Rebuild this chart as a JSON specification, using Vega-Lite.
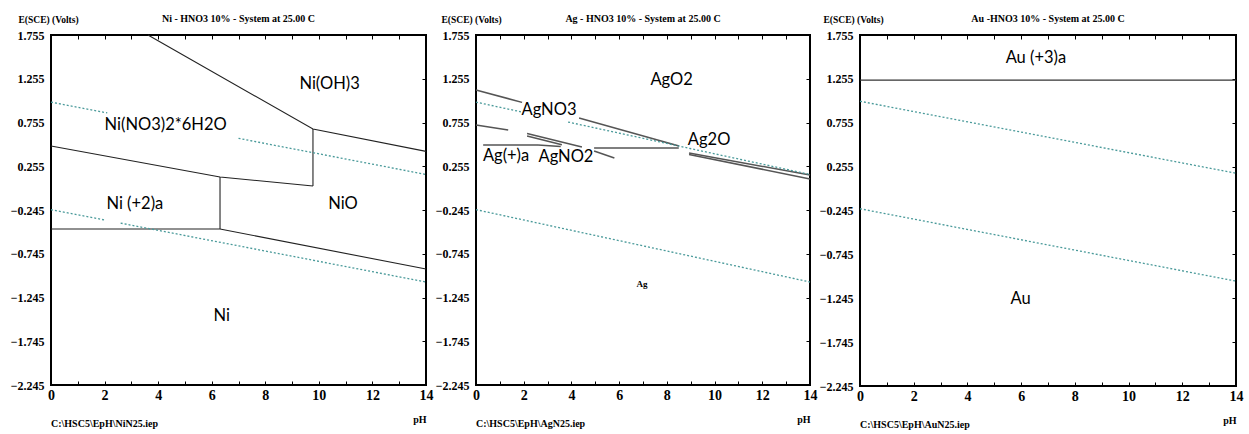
{
  "$schema": "https://vega.github.io/schema/vega-lite/v6.json",
  "background": "white",
  "padding": {"left": 9, "top": 13, "right": 6, "bottom": 2},
  "bounds": "flush",
  "spacing": 50,
  "config": {
    "view": {"stroke": "#000", "strokeWidth": 2},
    "axis": {"labelFont": "Liberation Serif", "labelFontWeight": "bold", "labelColor": "#000", "titleFont": "Liberation Serif", "titleFontWeight": "bold", "titleColor": "#000", "grid": false, "domain": false, "tickColor": "#000", "labelFlush": false, "labelOverlap": false},
    "title": {"font": "Liberation Serif", "fontWeight": "bold", "fontSize": 10, "offset": -10, "anchor": "middle", "color": "#000"},
    "text": {"font": "Lato", "fontSize": 16.5, "color": "#000"}
  },
  "datasets": {
    "ni_solid": [
      {"seg": "s1", "pH": 3.62, "E": 1.755}, {"seg": "s1", "pH": 9.78, "E": 0.681}, {"seg": "s1", "pH": 14, "E": 0.425},
      {"seg": "s2", "pH": 9.78, "E": 0.681}, {"seg": "s2", "pH": 9.78, "E": 0.03},
      {"seg": "s3", "pH": 0, "E": 0.486}, {"seg": "s3", "pH": 6.31, "E": 0.132}, {"seg": "s3", "pH": 9.78, "E": 0.03},
      {"seg": "s4", "pH": 6.31, "E": 0.132}, {"seg": "s4", "pH": 6.31, "E": -0.462},
      {"seg": "s5", "pH": 0, "E": -0.462}, {"seg": "s5", "pH": 6.31, "E": -0.462}, {"seg": "s5", "pH": 14, "E": -0.92}
    ],
    "ni_dot": [
      {"seg": "d1", "pH": 0, "E": 0.988}, {"seg": "d1", "pH": 2.1, "E": 0.864},
      {"seg": "d2", "pH": 7.0, "E": 0.574}, {"seg": "d2", "pH": 14, "E": 0.161},
      {"seg": "d3", "pH": 0, "E": -0.241}, {"seg": "d3", "pH": 2.0, "E": -0.359},
      {"seg": "d4", "pH": 2.6, "E": -0.395}, {"seg": "d4", "pH": 14, "E": -1.068}
    ],
    "ni_labels": [
      {"pH": 10.4, "E": 1.19, "label": "Ni(OH)3"},
      {"pH": 4.28, "E": 0.726, "label": "Ni(NO3)2*6H2O"},
      {"pH": 3.13, "E": -0.176, "label": "Ni (+2)a"},
      {"pH": 10.9, "E": -0.176, "label": "NiO"},
      {"pH": 6.37, "E": -1.456, "label": "Ni"}
    ],
    "ni_file": [{"pH": 0, "E": -2.245, "label": "C:\\HSC5\\EpH\\NiN25.iep"}],
    "ag_solid": [
      {"seg": "a1", "pH": 0, "E": 1.126}, {"seg": "a1", "pH": 1.93, "E": 0.985},
      {"seg": "a2", "pH": 0, "E": 0.726}, {"seg": "a2", "pH": 1.35, "E": 0.669},
      {"seg": "a3", "pH": 0.3, "E": 0.498}, {"seg": "a3", "pH": 2.6, "E": 0.498},
      {"seg": "a3b", "pH": 2.6, "E": 0.498}, {"seg": "a3b", "pH": 3.55, "E": 0.48},
      {"seg": "a4", "pH": 2.14, "E": 0.63}, {"seg": "a4", "pH": 4.44, "E": 0.475},
      {"seg": "a4b", "pH": 2.14, "E": 0.6}, {"seg": "a4b", "pH": 3.6, "E": 0.5},
      {"seg": "a5", "pH": 4.32, "E": 0.806}, {"seg": "a5", "pH": 8.51, "E": 0.486},
      {"seg": "a6", "pH": 4.95, "E": 0.464}, {"seg": "a6", "pH": 8.5, "E": 0.464},
      {"seg": "a7", "pH": 4.95, "E": 0.43}, {"seg": "a7", "pH": 5.8, "E": 0.35},
      {"seg": "a8", "pH": 8.93, "E": 0.406}, {"seg": "a8", "pH": 14, "E": 0.155},
      {"seg": "a9", "pH": 8.93, "E": 0.39}, {"seg": "a9", "pH": 14, "E": 0.11}
    ],
    "ag_dot": [
      {"seg": "d1", "pH": 0, "E": 0.988}, {"seg": "d1", "pH": 1.9, "E": 0.876},
      {"seg": "d2", "pH": 3.86, "E": 0.76}, {"seg": "d2", "pH": 14, "E": 0.161},
      {"seg": "d3", "pH": 0, "E": -0.241}, {"seg": "d3", "pH": 14, "E": -1.068}
    ],
    "ag_labels": [
      {"pH": 8.2, "E": 1.24, "label": "AgO2"},
      {"pH": 3.06, "E": 0.898, "label": "AgNO3"},
      {"pH": 9.77, "E": 0.555, "label": "Ag2O"},
      {"pH": 1.26, "E": 0.372, "label": "Ag(+)a"},
      {"pH": 3.77, "E": 0.36, "label": "AgNO2"}
    ],
    "ag_small": [{"pH": 6.96, "E": -1.09, "label": "Ag"}],
    "ag_file": [{"pH": 0, "E": -2.245, "label": "C:\\HSC5\\EpH\\AgN25.iep"}],
    "au_solid": [
      {"seg": "h", "pH": 0, "E": 1.24}, {"seg": "h", "pH": 14, "E": 1.24}
    ],
    "au_dot": [
      {"seg": "d1", "pH": 0, "E": 1.0}, {"seg": "d1", "pH": 14, "E": 0.18},
      {"seg": "d2", "pH": 0, "E": -0.225}, {"seg": "d2", "pH": 14, "E": -1.05}
    ],
    "au_labels": [
      {"pH": 6.55, "E": 1.49, "label": "Au (+3)a"},
      {"pH": 5.98, "E": -1.25, "label": "Au"}
    ],
    "au_file": [{"pH": 0, "E": -2.245, "label": "C:\\HSC5\\EpH\\AuN25.iep"}]
  },
  "hconcat": [
    {
      "width": 375, "height": 350,
      "title": "Ni - HNO3 10% - System at 25.00 C",
      "resolve": {"axis": {"x": "independent", "y": "independent"}},
      "layer": [
        {
          "data": {"name": "ni_solid"},
          "mark": {"type": "line", "color": "#222", "strokeWidth": 1.1},
          "encoding": {
            "x": {"field": "pH", "type": "quantitative", "scale": {"domain": [0, 14], "nice": false, "zero": false},
              "axis": {"orient": "bottom", "values": [0,1,2,3,4,5,6,7,8,9,10,11,12,13,14], "labelExpr": "datum.value % 2 === 0 ? datum.label : ''", "labelFontSize": 14, "tickSize": -4, "labelPadding": 7, "title": "pH", "titleAnchor": "end", "titleAlign": "right", "titleFontSize": 10, "titlePadding": 12}},
            "y": {"field": "E", "type": "quantitative", "scale": {"domain": [-2.245, 1.755], "nice": false, "zero": false},
              "axis": {"orient": "left", "values": [1.755, 1.255, 0.755, 0.255, -0.245, -0.745, -1.245, -1.745, -2.245], "format": ".3f", "labelFontSize": 12, "labelPadding": 7, "ticks": false, "title": "E(SCE) (Volts)", "titleAngle": 0, "titleX": -33, "titleY": -13, "titleAlign": "left", "titleBaseline": "alphabetic", "titleFontSize": 9.5}},
            "detail": {"field": "seg"}
          }
        },
        {
          "data": {"name": "ni_dot"},
          "mark": {"type": "line", "color": "#4a9a9a", "strokeDash": [2, 2], "strokeWidth": 1.3},
          "encoding": {
            "x": {"field": "pH", "type": "quantitative", "axis": {"orient": "top", "values": [1,2,3,4,5,6,7,8,9,10,11,12,13], "labels": false, "tickSize": -4, "title": null}},
            "y": {"field": "E", "type": "quantitative", "axis": {"orient": "right", "values": [1.255, 0.755, 0.255, -0.245, -0.745, -1.245, -1.745], "labels": false, "tickSize": -4, "title": null}},
            "detail": {"field": "seg"}
          }
        },
        {
          "data": {"name": "ni_labels"},
          "mark": {"type": "text"},
          "encoding": {
            "x": {"field": "pH", "type": "quantitative", "axis": null},
            "y": {"field": "E", "type": "quantitative", "axis": null},
            "text": {"field": "label"}
          }
        },
        {
          "data": {"name": "ni_file"},
          "mark": {"type": "text", "font": "Liberation Serif", "fontWeight": "bold", "fontSize": 10, "align": "left", "dy": 39, "color": "#000"},
          "encoding": {
            "x": {"field": "pH", "type": "quantitative", "axis": null},
            "y": {"field": "E", "type": "quantitative", "axis": null},
            "text": {"field": "label"}
          }
        }
      ]
    },
    {
      "width": 334, "height": 350,
      "title": "Ag - HNO3 10% - System at 25.00 C",
      "resolve": {"axis": {"x": "independent", "y": "independent"}},
      "layer": [
        {
          "data": {"name": "ag_solid"},
          "mark": {"type": "line", "color": "#555", "strokeWidth": 1.5},
          "encoding": {
            "x": {"field": "pH", "type": "quantitative", "scale": {"domain": [0, 14], "nice": false, "zero": false},
              "axis": {"orient": "bottom", "values": [0,1,2,3,4,5,6,7,8,9,10,11,12,13,14], "labelExpr": "datum.value % 2 === 0 ? datum.label : ''", "labelFontSize": 14, "tickSize": -4, "labelPadding": 7, "title": "pH", "titleAnchor": "end", "titleAlign": "right", "titleFontSize": 10, "titlePadding": 12}},
            "y": {"field": "E", "type": "quantitative", "scale": {"domain": [-2.245, 1.755], "nice": false, "zero": false},
              "axis": {"orient": "left", "values": [1.755, 1.255, 0.755, 0.255, -0.245, -0.745, -1.245, -1.745, -2.245], "format": ".3f", "labelFontSize": 12, "labelPadding": 7, "ticks": false, "title": "E(SCE) (Volts)", "titleAngle": 0, "titleX": -35, "titleY": -13, "titleAlign": "left", "titleBaseline": "alphabetic", "titleFontSize": 9.5}},
            "detail": {"field": "seg"}
          }
        },
        {
          "data": {"name": "ag_dot"},
          "mark": {"type": "line", "color": "#4a9a9a", "strokeDash": [2, 2], "strokeWidth": 1.3},
          "encoding": {
            "x": {"field": "pH", "type": "quantitative", "axis": {"orient": "top", "values": [1,2,3,4,5,6,7,8,9,10,11,12,13], "labels": false, "tickSize": -4, "title": null}},
            "y": {"field": "E", "type": "quantitative", "axis": {"orient": "right", "values": [1.255, 0.755, 0.255, -0.245, -0.745, -1.245, -1.745], "labels": false, "tickSize": -4, "title": null}},
            "detail": {"field": "seg"}
          }
        },
        {
          "data": {"name": "ag_labels"},
          "mark": {"type": "text"},
          "encoding": {
            "x": {"field": "pH", "type": "quantitative", "axis": null},
            "y": {"field": "E", "type": "quantitative", "axis": null},
            "text": {"field": "label"}
          }
        },
        {
          "data": {"name": "ag_small"},
          "mark": {"type": "text", "font": "Liberation Serif", "fontWeight": "bold", "fontSize": 9, "color": "#000"},
          "encoding": {
            "x": {"field": "pH", "type": "quantitative", "axis": null},
            "y": {"field": "E", "type": "quantitative", "axis": null},
            "text": {"field": "label"}
          }
        },
        {
          "data": {"name": "ag_file"},
          "mark": {"type": "text", "font": "Liberation Serif", "fontWeight": "bold", "fontSize": 10, "align": "left", "dy": 39, "color": "#000"},
          "encoding": {
            "x": {"field": "pH", "type": "quantitative", "axis": null},
            "y": {"field": "E", "type": "quantitative", "axis": null},
            "text": {"field": "label"}
          }
        }
      ]
    },
    {
      "width": 376, "height": 351,
      "title": "Au -HNO3 10% - System at 25.00 C",
      "resolve": {"axis": {"x": "independent", "y": "independent"}},
      "layer": [
        {
          "data": {"name": "au_solid"},
          "mark": {"type": "line", "color": "#333", "strokeWidth": 1.3},
          "encoding": {
            "x": {"field": "pH", "type": "quantitative", "scale": {"domain": [0, 14], "nice": false, "zero": false},
              "axis": {"orient": "bottom", "values": [0,1,2,3,4,5,6,7,8,9,10,11,12,13,14], "labelExpr": "datum.value % 2 === 0 ? datum.label : ''", "labelFontSize": 14, "tickSize": -4, "labelPadding": 7, "title": "pH", "titleAnchor": "end", "titleAlign": "right", "titleFontSize": 10, "titlePadding": 12}},
            "y": {"field": "E", "type": "quantitative", "scale": {"domain": [-2.245, 1.755], "nice": false, "zero": false},
              "axis": {"orient": "left", "values": [1.755, 1.255, 0.755, 0.255, -0.245, -0.745, -1.245, -1.745, -2.245], "format": ".3f", "labelFontSize": 12, "labelPadding": 7, "ticks": false, "title": "E(SCE) (Volts)", "titleAngle": 0, "titleX": -37, "titleY": -13, "titleAlign": "left", "titleBaseline": "alphabetic", "titleFontSize": 9.5}},
            "detail": {"field": "seg"}
          }
        },
        {
          "data": {"name": "au_dot"},
          "mark": {"type": "line", "color": "#4a9a9a", "strokeDash": [2, 2], "strokeWidth": 1.3},
          "encoding": {
            "x": {"field": "pH", "type": "quantitative", "axis": {"orient": "top", "values": [1,2,3,4,5,6,7,8,9,10,11,12,13], "labels": false, "tickSize": -4, "title": null}},
            "y": {"field": "E", "type": "quantitative", "axis": {"orient": "right", "values": [1.255, 0.755, 0.255, -0.245, -0.745, -1.245, -1.745], "labels": false, "tickSize": -4, "title": null}},
            "detail": {"field": "seg"}
          }
        },
        {
          "data": {"name": "au_labels"},
          "mark": {"type": "text"},
          "encoding": {
            "x": {"field": "pH", "type": "quantitative", "axis": null},
            "y": {"field": "E", "type": "quantitative", "axis": null},
            "text": {"field": "label"}
          }
        },
        {
          "data": {"name": "au_file"},
          "mark": {"type": "text", "font": "Liberation Serif", "fontWeight": "bold", "fontSize": 10, "align": "left", "dy": 39, "color": "#000"},
          "encoding": {
            "x": {"field": "pH", "type": "quantitative", "axis": null},
            "y": {"field": "E", "type": "quantitative", "axis": null},
            "text": {"field": "label"}
          }
        }
      ]
    }
  ]
}
